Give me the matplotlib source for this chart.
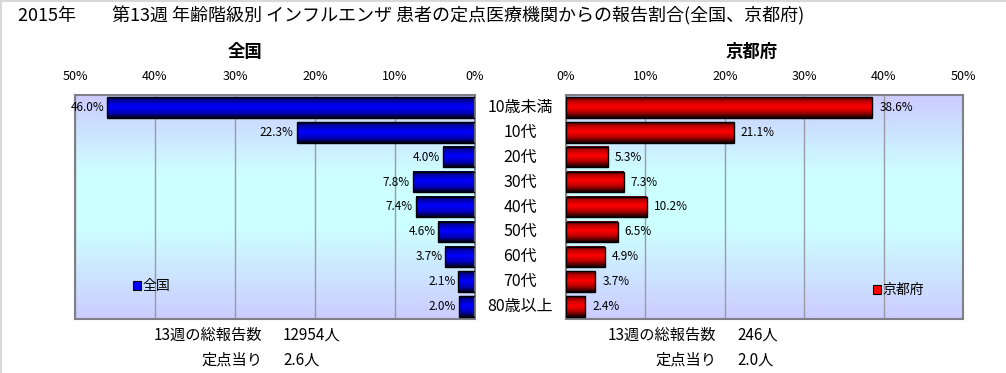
import matplotlib
matplotlib.use("Agg")
import matplotlib.pyplot as plt
import numpy as np
from matplotlib.patches import Patch
from matplotlib.lines import Line2D
from matplotlib.transforms import blended_transform_factory

plt.rcParams["font.family"] = ["Noto Sans CJK JP", "DejaVu Sans"]

# data
title = "2015年　　第13週 年齢階級別 インフルエンザ 患者の定点医療機関からの報告割合(全国、京都府)"
categories = ["10歳未満", "10代", "20代", "30代", "40代", "50代", "60代", "70代", "80歳以上"]
zenkoku = [46.0, 22.3, 4.0, 7.8, 7.4, 4.6, 3.7, 2.1, 2.0]
kyoto = [38.6, 21.1, 5.3, 7.3, 10.2, 6.5, 4.9, 3.7, 2.4]
xticks = [0, 10, 20, 30, 40, 50]
panel_names = ["全国", "京都府"]
total_reports = ["12954人", "246人"]
per_site = ["2.6人", "2.0人"]


def gradient(stops, n=64):
    pos = np.array([s[0] for s in stops])
    cols = np.array([matplotlib.colors.to_rgb(s[1]) for s in stops])
    t = np.linspace(0, 1, n)
    rgb = np.stack([np.interp(t, pos, cols[:, k]) for k in range(3)], axis=1)
    return rgb[:, None, :]


bg = gradient([(0, "#ccccff"), (0.35, "#ccffff"), (0.6, "#ccffff"), (1, "#ccccff")])
blue_bar = gradient([(0, "#000030"), (0.15, "#0000a0"), (0.45, "#0000ff"), (0.75, "#0000c0"), (1, "#000018")])
red_bar = gradient([(0, "#500000"), (0.2, "#c00000"), (0.45, "#ff0000"), (0.7, "#c00000"), (1, "#100000")])

fig = plt.figure(figsize=(10.06, 3.73), dpi=100)
W, H = 1006, 373

ax_l = fig.add_axes([75 / W, 1 - 319 / H, 400 / W, 224 / H])
ax_r = fig.add_axes([566 / W, 1 - 319 / H, 397 / W, 224 / H])

y = np.arange(len(categories))
bar_h = 0.82


def draw_panel(ax, vals, grad, left_side):
    ax.imshow(bg, extent=(0, 1, 0, 1), transform=ax.transAxes, aspect="auto", zorder=0)
    bars = ax.barh(y, vals, height=bar_h, facecolor="none", edgecolor="black", lw=1.0, zorder=3)
    for b in bars:
        x0, y0 = b.get_x(), b.get_y()
        ax.imshow(grad, extent=(x0, x0 + b.get_width(), y0 + b.get_height(), y0),
                  aspect="auto", zorder=2, interpolation="bilinear")
    if left_side:
        ax.set_xlim(50, 0)
    else:
        ax.set_xlim(0, 50)
    ax.set_ylim(len(categories) - 0.5, -0.5)
    ax.set_aspect("auto")
    ax.set_yticks([])
    ax.set_xticks(xticks)
    ax.set_xticklabels([f"{t}%" for t in xticks])
    ax.xaxis.tick_top()
    ax.tick_params(axis="x", length=0, pad=9, labelsize=9)
    ax.set_axisbelow(True)
    ax.xaxis.grid(True, color="#9a9aa8", lw=1.0, zorder=0.5)
    for s in ax.spines.values():
        s.set_color("#808088")
        s.set_linewidth(1.5)
    for yi, v in zip(y, vals):
        if left_side:
            ax.annotate(f"{v:.1f}%", (v, yi), xytext=(-2, 0), textcoords="offset points",
                        ha="right", va="center", fontsize=8.5, zorder=4)
        else:
            ax.annotate(f"{v:.1f}%", (v, yi), xytext=(5, 0), textcoords="offset points",
                        ha="left", va="center", fontsize=8.5, zorder=4)


draw_panel(ax_l, zenkoku, blue_bar, True)
draw_panel(ax_r, kyoto, red_bar, False)

# legends
for ax, name, col, anchor in [(ax_l, panel_names[0], "#0000ff", (0.145, 0.147)),
                              (ax_r, panel_names[1], "#ff0000", (0.773, 0.129))]:
    h = Patch(facecolor=col, edgecolor="black", lw=0.8)
    ax.legend([h], [name], loc="center left", bbox_to_anchor=anchor, frameon=False,
              handlelength=0.6, handleheight=0.6, handletextpad=0.1, fontsize=10,
              borderpad=0, borderaxespad=0)

# category labels between panels
tr = blended_transform_factory(fig.transFigure, ax_l.transData)
for yi, c in zip(y, categories):
    fig.text(520 / W, yi, c, transform=tr, ha="center", va="center", fontsize=11.5)

# titles
fig.text(18 / W, 1 - 16 / H, title, ha="left", va="center", fontsize=13)
fig.text(245 / W, 1 - 52 / H, panel_names[0], ha="center", va="center", fontsize=12.5, fontweight="bold")
fig.text(752 / W, 1 - 52 / H, panel_names[1], ha="center", va="center", fontsize=12.5, fontweight="bold")

# summary text under each panel
for lab_x, val_x, tot, per in [(262, 283, total_reports[0], per_site[0]),
                               (716, 737, total_reports[1], per_site[1])]:
    fig.text(lab_x / W, 1 - 335 / H, "13週の総報告数", ha="right", va="center", fontsize=11)
    fig.text(val_x / W, 1 - 335 / H, tot, ha="left", va="center", fontsize=11)
    fig.text(lab_x / W, 1 - 360 / H, "定点当り", ha="right", va="center", fontsize=11)
    fig.text(val_x / W, 1 - 360 / H, per, ha="left", va="center", fontsize=11)

# thin gray frame on top and left edges
fig.add_artist(Line2D([0, 1], [1 - 1 / H, 1 - 1 / H], transform=fig.transFigure, color="#d8d8d8", lw=1.5))
fig.add_artist(Line2D([1 / W, 1 / W], [0, 1], transform=fig.transFigure, color="#d8d8d8", lw=1.5))

fig.savefig("out.png", dpi=100)
